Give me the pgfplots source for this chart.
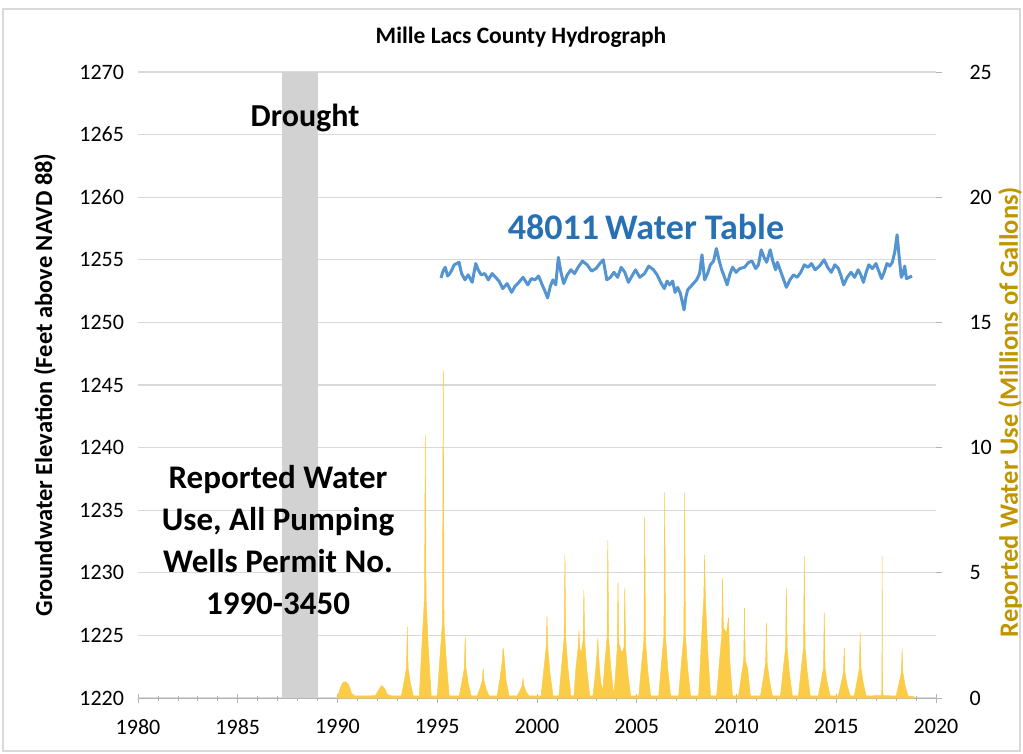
\documentclass[border=0pt]{standalone}
\usepackage{pgfplots}
\pgfplotsset{compat=1.18}
\usepackage{fontspec}
\setmainfont{Carlito}
\definecolor{blueline}{RGB}{84,148,208}
\definecolor{bluetext}{RGB}{40,112,180}
\definecolor{gold}{RGB}{250,204,72}
\definecolor{goldtext}{RGB}{191,150,0}
\definecolor{gridc}{RGB}{217,217,217}
\definecolor{axc}{RGB}{180,180,180}
\definecolor{band}{RGB}{210,210,210}

\pgfplotstableread{
x y
1995.19 1253.55
1995.29 1254.1
1995.40 1254.4
1995.52 1253.7
1995.67 1254.0
1995.85 1254.6
1996.09 1254.8
1996.22 1253.9
1996.39 1253.4
1996.55 1253.8
1996.75 1253.2
1996.93 1254.7
1997.05 1254.2
1997.20 1253.8
1997.38 1253.9
1997.56 1253.4
1997.75 1253.9
1997.92 1253.6
1998.10 1253.3
1998.28 1252.7
1998.50 1253.1
1998.73 1252.4
1998.90 1252.9
1999.09 1253.2
1999.30 1253.6
1999.54 1253.0
1999.72 1253.5
1999.90 1253.4
2000.08 1253.7
2000.26 1253.0
2000.40 1252.5
2000.53 1251.95
2000.67 1252.9
2000.80 1253.4
2000.94 1253.0
2001.07 1255.2
2001.20 1254.0
2001.34 1253.1
2001.52 1253.8
2001.70 1254.2
2001.88 1253.9
2002.06 1254.4
2002.28 1254.9
2002.51 1254.6
2002.74 1254.1
2002.96 1254.3
2003.15 1254.7
2003.32 1255.0
2003.50 1253.4
2003.68 1253.6
2003.86 1254.0
2004.04 1253.6
2004.22 1254.4
2004.40 1254.0
2004.58 1253.2
2004.76 1253.7
2004.94 1254.2
2005.15 1253.6
2005.39 1253.9
2005.60 1254.5
2005.84 1254.2
2006.02 1253.8
2006.20 1253.2
2006.38 1252.7
2006.52 1253.3
2006.65 1253.0
2006.80 1253.3
2006.92 1252.4
2007.05 1252.8
2007.19 1252.3
2007.37 1251.0
2007.46 1252.0
2007.55 1252.6
2007.78 1253.0
2008.00 1253.4
2008.15 1253.9
2008.27 1255.4
2008.40 1253.4
2008.55 1253.9
2008.69 1254.6
2008.85 1254.9
2008.99 1255.9
2009.12 1255.0
2009.26 1254.2
2009.40 1253.6
2009.53 1253.0
2009.66 1253.8
2009.80 1254.4
2009.98 1254.0
2010.16 1254.3
2010.40 1254.4
2010.61 1254.8
2010.78 1254.9
2010.96 1254.3
2011.10 1254.6
2011.24 1255.8
2011.38 1255.2
2011.51 1254.8
2011.60 1255.3
2011.69 1255.8
2011.82 1254.9
2011.96 1254.2
2012.05 1254.8
2012.14 1254.4
2012.32 1253.6
2012.50 1252.8
2012.68 1253.4
2012.86 1253.8
2013.04 1253.6
2013.22 1254.0
2013.40 1254.6
2013.58 1254.4
2013.76 1254.7
2013.94 1254.2
2014.16 1254.5
2014.39 1255.0
2014.57 1254.4
2014.75 1254.0
2014.93 1254.6
2015.11 1254.3
2015.24 1253.7
2015.37 1253.0
2015.55 1253.6
2015.74 1254.0
2015.92 1253.6
2016.10 1254.2
2016.23 1253.8
2016.36 1253.2
2016.50 1254.0
2016.63 1254.6
2016.81 1254.3
2016.99 1254.7
2017.13 1254.1
2017.27 1253.5
2017.40 1254.0
2017.54 1254.7
2017.68 1254.5
2017.81 1254.8
2017.93 1255.6
2018.05 1257.0
2018.15 1255.3
2018.26 1253.6
2018.35 1253.9
2018.43 1254.5
2018.52 1253.5
2018.66 1253.6
2018.80 1253.7
}\wtable

\pgfplotstableread{
x y
1990.0 0.05
1990.1 0.3
1990.25 0.6
1990.4 0.65
1990.55 0.55
1990.7 0.2
1990.85 0.08
1991.5 0.08
1991.9 0.1
1992.05 0.3
1992.2 0.5
1992.35 0.4
1992.5 0.15
1992.7 0.08
1993.2 0.08
1993.35 0.7
1993.46 1.2
1993.5 2.84
1993.54 1.2
1993.65 0.6
1993.8 0.08
1994.1 0.08
1994.25 2.4
1994.36 4.0
1994.4 10.5
1994.44 4.0
1994.55 2.0
1994.7 0.08
1995.0 0.08
1995.15 1.8
1995.26 3.0
1995.3 13.1
1995.34 3.0
1995.45 1.5
1995.6 0.08
1996.1 0.08
1996.25 0.7
1996.36 1.2
1996.4 2.45
1996.44 1.2
1996.55 0.6
1996.7 0.08
1997.0 0.08
1997.15 0.4
1997.26 0.7
1997.3 1.2
1997.34 0.7
1997.45 0.35
1997.6 0.08
1998.0 0.08
1998.15 0.8
1998.26 1.5
1998.3 2.0
1998.36 1.6
1998.45 0.7
1998.6 0.08
1999.0 0.08
1999.15 0.3
1999.26 0.5
1999.3 0.8
1999.34 0.5
1999.45 0.25
1999.6 0.08
2000.2 0.08
2000.35 1.2
2000.46 2.0
2000.5 3.25
2000.54 2.0
2000.65 1.0
2000.8 0.08
2001.1 0.08
2001.25 1.4
2001.36 2.4
2001.4 5.7
2001.44 2.4
2001.55 1.2
2001.7 0.08
2001.85 0.08
2001.95 1.2
2002.06 2.0
2002.1 2.7
2002.14 2.0
2002.22 1.8
2002.31 2.3
2002.35 4.3
2002.39 2.3
2002.5 1.1
2002.65 0.08
2002.8 0.08
2002.93 1.0
2003.01 1.8
2003.05 2.4
2003.09 1.6
2003.2 0.6
2003.3 0.3
2003.4 1.4
2003.51 2.4
2003.55 6.3
2003.59 2.4
2003.7 1.2
2003.85 0.1
2003.92 0.8
2004.02 2.0
2004.06 4.6
2004.1 2.2
2004.25 1.8
2004.36 2.0
2004.4 4.4
2004.44 2.0
2004.55 1.0
2004.7 0.08
2005.1 0.08
2005.25 1.4
2005.36 2.3
2005.4 7.2
2005.44 2.3
2005.55 1.1
2005.7 0.08
2006.1 0.08
2006.25 1.5
2006.36 2.5
2006.4 8.2
2006.44 2.5
2006.55 1.2
2006.7 0.08
2007.1 0.08
2007.25 1.5
2007.36 2.5
2007.4 8.2
2007.44 2.5
2007.55 1.2
2007.7 0.08
2008.1 0.08
2008.25 2.4
2008.36 4.0
2008.4 5.7
2008.44 4.0
2008.55 2.0
2008.7 0.08
2009.0 0.08
2009.15 1.5
2009.26 2.5
2009.3 4.8
2009.34 2.8
2009.5 2.6
2009.6 3.2
2009.66 1.5
2009.8 0.08
2010.1 0.08
2010.25 0.9
2010.36 1.5
2010.4 3.6
2010.44 1.5
2010.55 1.2
2010.7 0.08
2011.2 0.08
2011.35 0.8
2011.46 1.4
2011.5 3.0
2011.54 1.4
2011.65 0.7
2011.8 0.08
2012.2 0.08
2012.35 1.2
2012.46 2.0
2012.5 4.4
2012.54 2.0
2012.65 1.0
2012.8 0.08
2013.1 0.08
2013.25 1.2
2013.36 2.0
2013.4 5.67
2013.44 2.0
2013.55 1.0
2013.7 0.08
2014.1 0.08
2014.25 0.7
2014.36 1.2
2014.4 3.4
2014.44 1.2
2014.55 0.6
2014.7 0.08
2015.1 0.08
2015.25 0.6
2015.36 1.0
2015.4 2.0
2015.44 1.0
2015.55 0.5
2015.7 0.08
2015.9 0.08
2016.05 0.7
2016.16 1.2
2016.2 2.6
2016.24 1.2
2016.35 0.6
2016.5 0.08
2017.26 0.1
2017.29 0.4
2017.3 5.67
2017.32 0.4
2017.35 0.1
2018.0 0.08
2018.15 0.6
2018.26 1.0
2018.3 1.96
2018.34 1.0
2018.45 0.5
2018.6 0.08
2018.9 0.05
}\usetable

\begin{document}
\begin{tikzpicture}[x=1pt,y=1pt]
\useasboundingbox (0,0) rectangle (1023,753);
\draw[gridc, line width=1.2pt] (3,2) rectangle (1020,744);
\begin{axis}[at={(138pt,55pt)}, anchor=south west, scale only axis,
  width=798pt, height=626pt,
  xmin=1980, xmax=2020, ymin=1220, ymax=1270,
  axis y line*=left, axis x line*=bottom,
  y axis line style={draw=none},
  x axis line style={draw=axc, line width=1pt, -},
  xtick={1980,1985,...,2020}, minor x tick num=4,
  ytick={1220,1225,...,1270},
  ymajorgrids, grid style={gridc, line width=1.2pt},
  major y tick style={draw=none},
  x tick style={axc, line width=0.8pt},
  major tick length=9pt, minor tick length=5pt,
  tick align=center,
  /pgf/number format/1000 sep={},
  /pgf/number format/assume math mode=true,
  tick label style={font=\fontsize{22}{22}\selectfont, text=black},
  xticklabel style={yshift=-13pt},
  yticklabel style={xshift=-6pt},
  clip=false,
]
\fill[band] (axis cs:1987.2,1220) rectangle (axis cs:1989.0,1270);
\addplot[blueline, line width=3pt, line join=round] table[x=x,y=y] {\wtable};
\end{axis}
\begin{axis}[at={(138pt,55pt)}, anchor=south west, scale only axis,
  width=798pt, height=626pt,
  xmin=1980, xmax=2020, ymin=0, ymax=25,
  axis x line=none, axis y line*=right,
  y axis line style={draw=none},
  ytick={0,5,...,25},
  y tick style={axc, line width=0.8pt},
  major tick length=6pt, tick align=outside,
  tick label style={font=\fontsize{22}{22}\selectfont, text=black},
  yticklabel style={xshift=24pt},
  /pgf/number format/assume math mode=true,
]
\addplot[draw=gold, fill=gold, line width=0.5pt, line join=round] table[x=x,y=y] {\usetable} \closedcycle;
\end{axis}
\node[font=\fontsize{23.5}{23.5}\selectfont\bfseries] at (521,716) {Mille Lacs County Hydrograph};
\node[font=\fontsize{24.5}{24.5}\selectfont\bfseries, rotate=90] at (45,368) {Groundwater Elevation (Feet above NAVD 88)};
\node[font=\fontsize{26.5}{26.5}\selectfont\bfseries, rotate=90, text=goldtext] at (1010,341) {Reported Water Use (Millions of Gallons)};
\node[font=\fontsize{32}{32}\selectfont\bfseries] at (305,635) {Drought};
\node[font=\fontsize{36}{36}\selectfont\bfseries, text=bluetext] at (646,526) {48011\,Water Table};
\node[font=\fontsize{33}{42}\selectfont\bfseries, align=center] at (278,213) {Reported Water\\Use, All Pumping\\Wells Permit No.\\1990-3450};
\end{tikzpicture}
\end{document}
